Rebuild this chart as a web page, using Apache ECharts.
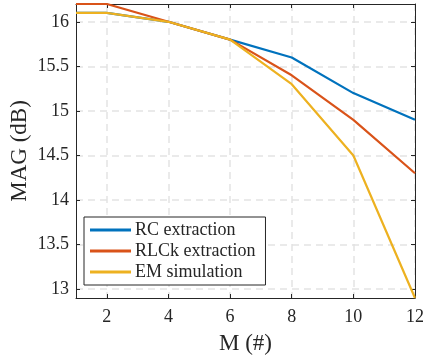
<!DOCTYPE html>
<html>
<head>
<meta charset="UTF-8">
<title></title>
<script src="https://cdn.jsdelivr.net/npm/echarts@6/dist/echarts.min.js"></script>
<style>
  html, body { margin: 0; padding: 0; background: #fff; }
  #main { width: 423px; height: 355px; }
</style>
</head>
<body>
<div id="main"></div>
<script type="text/javascript">
var mValues = [1, 2, 4, 6, 8, 10, 12];
var rcData = [16.1, 16.1, 16.0, 15.8, 15.6, 15.2, 14.9];
var rlckData = [16.2, 16.2, 16.0, 15.8, 15.4, 14.9, 14.3];
var emData = [16.1, 16.1, 16.0, 15.8, 15.3, 14.5, 12.9];
var xTicks = [2, 4, 6, 8, 10, 12];
var yTicks = [13, 13.5, 14, 14.5, 15, 15.5, 16];
var seriesNames = ['RC extraction', 'RLCk extraction', 'EM simulation'];

var font = 'Liberation Serif';
var axisColor = '#262626';

function pairs(vals) {
  return mValues.map(function (m, i) { return [m, vals[i]]; });
}

function xAxisCfg(pos, showLabel) {
  return {
    type: 'value', position: pos, min: 1, max: 12,
    name: showLabel ? 'M (#)' : '', nameLocation: 'middle', nameGap: 34, nameMoveOverlap: false,
    nameTextStyle: { fontFamily: font, fontSize: 23, color: axisColor },
    axisLine: { show: true, onZero: false, lineStyle: { color: axisColor, width: 1 } },
    axisTick: { show: true, inside: true, length: 4, customValues: xTicks, lineStyle: { color: axisColor } },
    axisLabel: { show: showLabel, customValues: xTicks, fontFamily: font, fontSize: 18, color: axisColor, margin: 10 },
    splitLine: { show: showLabel, lineStyle: { color: '#e3e3e3', type: [7, 5], width: 1.5 } }
  };
}

function yAxisCfg(pos, showLabel) {
  return {
    type: 'value', position: pos, min: 12.9, max: 16.2,
    name: showLabel ? 'MAG (dB)' : '', nameLocation: 'middle', nameGap: 45, nameMoveOverlap: false,
    nameTextStyle: { fontFamily: font, fontSize: 23, color: axisColor },
    axisLine: { show: true, onZero: false, lineStyle: { color: axisColor, width: 1 } },
    axisTick: { show: true, inside: true, length: 4, customValues: yTicks, lineStyle: { color: axisColor } },
    axisLabel: { show: showLabel, customValues: yTicks, fontFamily: font, fontSize: 18, color: axisColor, margin: 7 },
    splitLine: { show: showLabel, lineStyle: { color: '#e3e3e3', type: [7, 5], width: 1.5 } }
  };
}

var myChart = echarts.init(document.getElementById('main'));
var option = {
  animation: false,
  color: ['#0072BD', '#D95319', '#EDB120'],
  grid: { left: 76, right: 8, top: 4, bottom: 57, outerBoundsMode: 'none', containLabel: false },
  xAxis: [xAxisCfg('bottom', true), xAxisCfg('top', false)],
  yAxis: [yAxisCfg('left', true), yAxisCfg('right', false)],
  legend: {
    data: seriesNames,
    orient: 'vertical',
    left: 84, top: 217,
    icon: 'rect', itemWidth: 41, itemHeight: 3, itemGap: 3,
    padding: [4, 10, 4, 6],
    backgroundColor: '#fff',
    borderColor: axisColor, borderWidth: 1, borderRadius: 0,
    textStyle: { fontFamily: font, fontSize: 18, color: axisColor, padding: [0, 0, 0, -1] }
  },
  series: [
    { name: seriesNames[0], type: 'line', data: pairs(rcData), showSymbol: false, lineStyle: { width: 2.2 } },
    { name: seriesNames[1], type: 'line', data: pairs(rlckData), showSymbol: false, lineStyle: { width: 2.2 } },
    { name: seriesNames[2], type: 'line', data: pairs(emData), showSymbol: false, lineStyle: { width: 2.2 } }
  ]
};
myChart.setOption(option);
</script>
</body>
</html>
